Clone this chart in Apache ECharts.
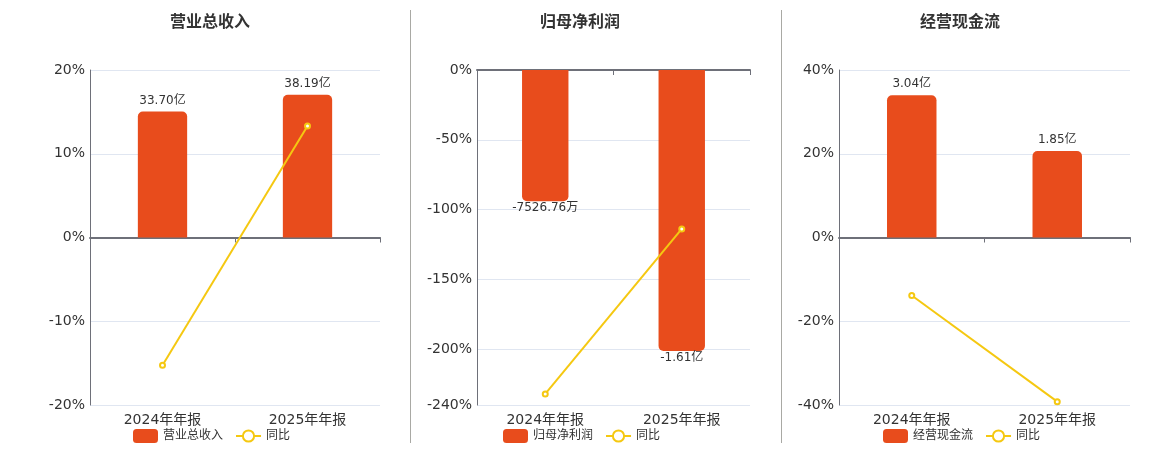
<!DOCTYPE html>
<html>
<head>
<meta charset="utf-8">
<script src="https://cdn.jsdelivr.net/npm/echarts@6/dist/echarts.min.js"></script>
<style>
html,body{margin:0;padding:0;background:#fff;}
#c{width:1160px;height:450px;}
</style>
</head>
<body>
<div id="c"></div>
<script>
// ---- data ----
const categories = ['2024年年报', '2025年年报'];
const titles = ['营业总收入', '归母净利润', '经营现金流'];
const revenue = [33.70, 38.19];          // 亿
const revenueYoY = [-15.25, 13.32];      // %
const profit = [-0.752676, -1.61];       // 亿
const profitYoY = [-232.1, -113.9];      // %
const cashflow = [3.04, 1.85];           // 亿
const cashflowYoY = [-13.86, -39.2];     // %
const yoyName = '同比';

// ---- layout / style ----
const FONT = "'DejaVu Sans','Noto Sans CJK SC',sans-serif";
const BAR = '#E84C1C';
const LINE = '#F5C811';
const panels = [
  { bars: revenue, yoy: revenueYoY, grid: {left: 90, top: 70, width: 290, height: 335},
    pct: {min: -20, max: 20, interval: 10}, amt: {min: -44.8, max: 44.8},
    titleLeft: 170, legendLeft: 133 },
  { bars: profit, yoy: profitYoY, grid: {left: 477, top: 70, width: 273, height: 335},
    pct: {min: -240, max: 0}, amt: {min: -1.92, max: 0},
    titleLeft: 540, legendLeft: 503 },
  { bars: cashflow, yoy: cashflowYoY, grid: {left: 839, top: 70, width: 291, height: 335},
    pct: {min: -40, max: 40, interval: 20}, amt: {min: -3.58, max: 3.58},
    titleLeft: 920, legendLeft: 883 }
];

function fmtAmt(v) {
  if (Math.abs(v) < 1) return (v * 10000).toFixed(2) + '万';
  return v.toFixed(2) + '亿';
}

const option = {
  animation: false,
  textStyle: {fontFamily: FONT},
  title: [], grid: [], xAxis: [], yAxis: [], legend: [], series: [],
  graphic: [
    {type: 'line', shape: {x1: 410.5, y1: 10, x2: 410.5, y2: 443}, style: {stroke: '#A9A9A4', lineWidth: 1}},
    {type: 'line', shape: {x1: 781.5, y1: 10, x2: 781.5, y2: 443}, style: {stroke: '#A9A9A4', lineWidth: 1}}
  ]
};

panels.forEach((p, i) => {
  option.title.push({
    text: titles[i], left: p.titleLeft, top: 15, padding: 0,
    textStyle: {fontSize: 16, fontWeight: 'bold', color: '#333', fontFamily: FONT}
  });
  option.grid.push(Object.assign({containLabel: false}, p.grid));
  // label axis (bottom)
  option.xAxis.push({
    type: 'category', gridIndex: i, data: categories, position: 'bottom',
    axisLine: {show: false, onZero: false}, axisTick: {show: false},
    axisLabel: {fontSize: 14, color: '#333', margin: 8, fontFamily: FONT},
    splitLine: {show: false}
  });
  // zero line axis
  option.xAxis.push({
    type: 'category', gridIndex: i, data: categories, position: 'top',
    axisLine: {show: true, onZero: true, lineStyle: {color: '#6E7079', width: 2}},
    axisTick: {show: true, inside: true, length: 5, lineStyle: {color: '#6E7079'}},
    axisLabel: {show: false}, splitLine: {show: false}
  });
  option.yAxis.push(Object.assign({
    type: 'value', gridIndex: i, position: 'left',
    axisLine: {show: true, lineStyle: {color: '#6E7079', width: 1}},
    axisTick: {show: false},
    axisLabel: {formatter: '{value}%', fontSize: 14, color: '#333', margin: 5, fontFamily: FONT},
    splitLine: {show: true, lineStyle: {color: '#E0E6F1'}}
  }, p.pct));
  option.yAxis.push(Object.assign({
    type: 'value', gridIndex: i, show: false, splitLine: {show: false}
  }, p.amt));

  option.legend.push({
    left: p.legendLeft, top: 429, padding: 0, itemWidth: 25, itemHeight: 14, itemGap: 12,
    data: [titles[i], yoyName],
    textStyle: {fontSize: 12, color: '#333', fontFamily: FONT}
  });

  option.series.push({
    name: titles[i], type: 'bar', xAxisIndex: 2 * i + 1, yAxisIndex: 2 * i + 1,
    barWidth: '34%',
    itemStyle: {color: BAR},
    data: p.bars.map(v => ({
      value: v,
      itemStyle: {borderRadius: v >= 0 ? [5, 5, 0, 0] : [0, 0, 5, 5]},
      label: {
        show: true, position: v >= 0 ? 'top' : 'bottom', distance: v >= 0 ? 5 : 1,
        fontSize: 12, color: '#333', fontFamily: FONT,
        formatter: (prm) => fmtAmt(prm.value)
      }
    }))
  });
  option.series.push({
    name: yoyName, type: 'line', xAxisIndex: 2 * i + 1, yAxisIndex: 2 * i,
    data: p.yoy, symbol: 'emptyCircle', symbolSize: 5, z: 5,
    lineStyle: {color: LINE, width: 2},
    itemStyle: {color: LINE, borderWidth: 2}
  });
});

const chart = echarts.init(document.getElementById('c'), null, {renderer: 'canvas'});
chart.setOption(option);
</script>
</body>
</html>
